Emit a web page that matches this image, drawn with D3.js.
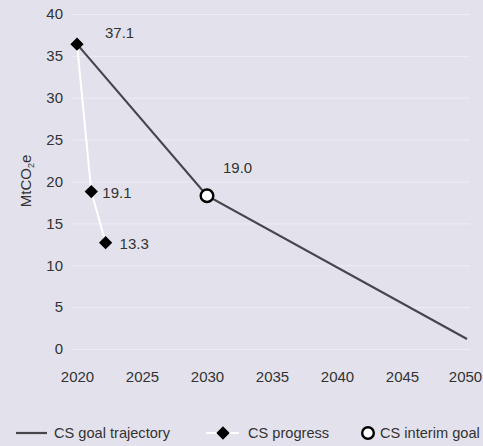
<!DOCTYPE html>
<html>
<head>
<meta charset="utf-8">
<script src="https://cdn.jsdelivr.net/npm/d3@7"></script>
<style>
  body { margin: 0; background: #e3e2ec; }
  #chart { width: 483px; height: 446px; }
  text { font-family: "Liberation Sans", Arial, sans-serif; fill: #333; }
</style>
</head>
<body>
<div id="chart"></div>
<script>
// Data
var yTicks = [0, 5, 10, 15, 20, 25, 30, 35, 40];
var xTicks = [2020, 2025, 2030, 2035, 2040, 2045, 2050];

var goalYears = [2020, 2030, 2050];
var goalValues = [36.4, 18.3, 1.2];

var progressYears = [2020, 2021.1, 2022.2];
var progressValues = [36.4, 18.8, 12.7];
var progressLabels = ["37.1", "19.1", "13.3"];

var interimYears = [2030];
var interimValues = [18.3];
var interimLabels = ["19.0"];

var legendLabels = ["CS goal trajectory", "CS progress", "CS interim goal"];

/*
 * EmissionsChart - Object constructor function
 */
EmissionsChart = function(_parentElement){
  this.parentElement = _parentElement;
  this.initVis();
}

EmissionsChart.prototype.initVis = function(){
  var vis = this;

  vis.margin = { top: 14, right: 13, bottom: 97, left: 72 };
  vis.width = 483 - vis.margin.left - vis.margin.right;
  vis.height = 446 - vis.margin.top - vis.margin.bottom;

  vis.root = d3.select("#" + vis.parentElement).append("svg")
    .attr("width", 483)
    .attr("height", 446);

  vis.svg = vis.root.append("g")
    .attr("transform", "translate(" + vis.margin.left + "," + vis.margin.top + ")");

  // Scales and Axes
  vis.x = d3.scaleLinear().domain([2020, 2050]).range([5, vis.width - 3]);
  vis.y = d3.scaleLinear().domain([0, 40]).range([vis.height, 0]);

  vis.yAxis = d3.axisLeft(vis.y).tickValues(yTicks).tickSize(-vis.width).tickPadding(9);
  vis.xAxis = d3.axisBottom(vis.x).tickValues(xTicks).tickFormat(d3.format("d")).tickSize(0).tickPadding(22);

  vis.svg.append("g").attr("class", "y-axis axis").call(vis.yAxis);
  vis.svg.append("g").attr("class", "x-axis axis")
    .attr("transform", "translate(0," + vis.height + ")")
    .call(vis.xAxis);

  vis.svg.selectAll(".axis .domain").remove();
  vis.svg.selectAll(".y-axis line").attr("stroke", "#eeedf4").attr("stroke-width", 1);
  vis.svg.selectAll(".axis text").attr("font-size", 15).attr("fill", "#333")
    .attr("font-family", "Liberation Sans, Arial, sans-serif");
  // last year label sits slightly inside the edge
  vis.svg.selectAll(".x-axis .tick text").attr("dx", function(d){ return d === 2050 ? -2 : 0; });

  // Axis title
  var title = vis.root.append("text")
    .attr("transform", "translate(31,181) rotate(-90)")
    .attr("text-anchor", "middle")
    .attr("font-size", 15);
  title.append("tspan").text("MtCO");
  title.append("tspan").attr("font-size", 9).attr("dy", 3).text("2");
  title.append("tspan").attr("dy", -3).text("e");

  vis.updateVis();
}

EmissionsChart.prototype.updateVis = function(){
  var vis = this;

  var goal = goalYears.map(function(d, i){ return { x: d, y: goalValues[i] }; });
  var progress = progressYears.map(function(d, i){ return { x: d, y: progressValues[i], label: progressLabels[i] }; });
  var interim = interimYears.map(function(d, i){ return { x: d, y: interimValues[i], label: interimLabels[i] }; });

  var line = d3.line()
    .x(function(d){ return vis.x(d.x); })
    .y(function(d){ return vis.y(d.y); });

  vis.svg.append("path")
    .datum(goal)
    .attr("fill", "none")
    .attr("stroke", "#47464c")
    .attr("stroke-width", 2.2)
    .attr("d", line);

  vis.svg.append("path")
    .datum(progress)
    .attr("fill", "none")
    .attr("stroke", "#fff")
    .attr("stroke-width", 2)
    .attr("d", line);

  var diamond = d3.symbol().type(d3.symbolSquare).size(88);

  vis.svg.selectAll(".progress-pt")
    .data(progress)
    .enter().append("path")
    .attr("class", "progress-pt")
    .attr("d", diamond)
    .attr("fill", "#000")
    .attr("transform", function(d){ return "translate(" + vis.x(d.x) + "," + vis.y(d.y) + ") rotate(45)"; });

  vis.svg.selectAll(".interim-pt")
    .data(interim)
    .enter().append("circle")
    .attr("class", "interim-pt")
    .attr("cx", function(d){ return vis.x(d.x); })
    .attr("cy", function(d){ return vis.y(d.y); })
    .attr("r", 6.3)
    .attr("fill", "#fff")
    .attr("stroke", "#000")
    .attr("stroke-width", 2.4);

  // Data labels
  var labelOffsets = [[28, -11], [11, 1], [14, 1]];
  vis.svg.selectAll(".progress-label")
    .data(progress)
    .enter().append("text")
    .attr("class", "progress-label")
    .attr("x", function(d, i){ return vis.x(d.x) + labelOffsets[i][0]; })
    .attr("y", function(d, i){ return vis.y(d.y) + labelOffsets[i][1]; })
    .attr("dy", "0.35em")
    .attr("font-size", 15)
    .text(function(d){ return d.label; });

  vis.svg.selectAll(".interim-label")
    .data(interim)
    .enter().append("text")
    .attr("class", "interim-label")
    .attr("x", function(d){ return vis.x(d.x) + 16; })
    .attr("y", function(d){ return vis.y(d.y) - 28; })
    .attr("dy", "0.35em")
    .attr("font-size", 15)
    .text(function(d){ return d.label; });

  // Legend
  var lg = vis.root.append("g").attr("transform", "translate(0,433)");

  lg.append("line").attr("x1", 16).attr("x2", 47).attr("y1", 0).attr("y2", 0)
    .attr("stroke", "#47464c").attr("stroke-width", 2.2);
  lg.append("text").attr("x", 54).attr("dy", "0.35em").attr("font-size", 14.6).text(legendLabels[0]);

  lg.append("line").attr("x1", 206).attr("x2", 239).attr("y1", 0).attr("y2", 0)
    .attr("stroke", "#fff").attr("stroke-width", 2);
  lg.append("path").attr("d", diamond).attr("fill", "#000")
    .attr("transform", "translate(223,0) rotate(45)");
  lg.append("text").attr("x", 248).attr("dy", "0.35em").attr("font-size", 14.6).text(legendLabels[1]);

  lg.append("circle").attr("cx", 368).attr("cy", 0).attr("r", 5.8)
    .attr("fill", "#fff").attr("stroke", "#000").attr("stroke-width", 2.4);
  lg.append("text").attr("x", 380).attr("dy", "0.35em").attr("font-size", 14.6).text(legendLabels[2]);
}

var chart = new EmissionsChart("chart");
</script>
</body>
</html>
